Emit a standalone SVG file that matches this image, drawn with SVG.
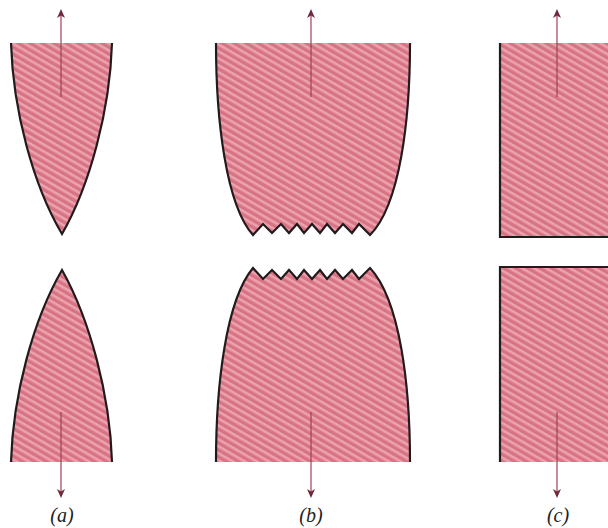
<svg xmlns="http://www.w3.org/2000/svg" width="608" height="528" viewBox="0 0 608 528">
<style>
.fill{fill:url(#hatch);stroke:none}
.edge{fill:none;stroke:#231a1c;stroke-width:2.2;stroke-linejoin:miter}
.arrow{fill:none;stroke:#a04058;stroke-width:1.2;marker-end:url(#head)}
.cap{font-family:"Liberation Serif",serif;font-style:italic;font-size:20px;fill:#222;text-anchor:middle}
</style>
<defs>
<pattern id="hatch" width="6" height="6" patternUnits="userSpaceOnUse" patternTransform="rotate(30)">
<rect width="6" height="6" fill="#d87384"/>
<rect y="0" width="6" height="2.6" fill="#eba3ae"/>
</pattern>
<marker id="head" markerWidth="10" markerHeight="14" refX="6" refY="5" orient="auto" markerUnits="userSpaceOnUse" viewBox="0 0 10 10">
<path d="M0 1L9 5L0 9L2.5 5Z" fill="#6e2a3c"/>
</marker>
</defs>
<rect width="608" height="528" fill="#fff"/>
<g id="a-top">
<path class="fill" d="M11 43L112 43C110 110 90 185 62 234C33 185 13 110 11 43Z"/>
<path class="edge" d="M11 43C13 110 33 185 62 234C90 185 110 110 112 43"/>
</g>
<g id="a-bottom">
<path class="fill" d="M11 462L112 462C110 395 90 320 62 270C33 320 13 395 11 462Z"/>
<path class="edge" d="M11 462C13 395 33 320 62 270C90 320 110 395 112 462"/>
</g>
<g id="b-top">
<path class="fill" d="M216 43H410C410 120 400 205 370 235L359 224L352 233L343 224L335 233L327 224L320 233L312 224L304 233L297 224L289 233L281 224L272 233L263 224L253 235C226 205 216 120 216 43Z"/>
<path class="edge" d="M216 43C216 120 226 205 253 235L263 224L272 233L281 224L289 233L297 224L304 233L312 224L320 233L327 224L335 233L343 224L352 233L359 224L370 235C400 205 410 120 410 43"/>
</g>
<g id="b-bottom">
<path class="fill" d="M216 462H410C410 385 400 300 370 268L359 279L352 270L343 279L335 270L327 279L320 270L312 279L304 270L297 279L289 270L281 279L272 270L263 279L253 268C226 300 216 385 216 462Z"/>
<path class="edge" d="M216 462C216 385 226 300 253 268L263 279L272 270L281 279L289 270L297 279L304 270L312 279L320 270L327 279L335 270L343 279L352 270L359 279L370 268C400 300 410 385 410 462"/>
</g>
<g id="c-top">
<rect class="fill" x="500" y="43" width="108" height="194"/>
<path class="edge" d="M500 43V237H608"/>
</g>
<g id="c-bottom">
<rect class="fill" x="500" y="267" width="108" height="195"/>
<path class="edge" d="M500 462V267H608"/>
</g>
<g id="connectors">
<path class="arrow" d="M61 97V12"/>
<path class="arrow" d="M61 412V495"/>
<path class="arrow" d="M311 97V12"/>
<path class="arrow" d="M311 412V495"/>
<path class="arrow" d="M557 97V12"/>
<path class="arrow" d="M557 412V495"/>
</g>
<text class="cap" x="62" y="522">(a)</text>
<text class="cap" x="311" y="522">(b)</text>
<text class="cap" x="558" y="522">(c)</text>
</svg>
